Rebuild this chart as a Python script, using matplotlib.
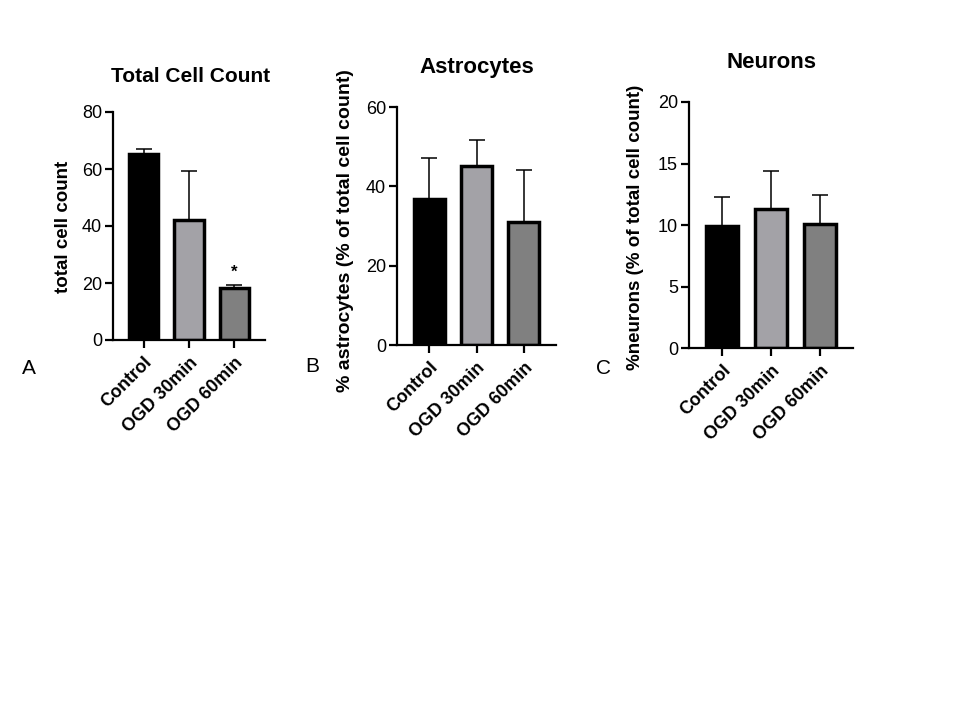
import matplotlib
matplotlib.use("Agg")
import matplotlib.pyplot as plt
import numpy as np

plt.rcParams['font.family'] = ['Liberation Sans', 'DejaVu Sans']

categories = ["Control", "OGD 30min", "OGD 60min"]
bar_colors = ["#000000", "#a3a2a7", "#808080"]

total_mean = [65.2, 42.2, 18.3]
total_err = [1.9, 17.0, 1.0]

astro_mean = [36.9, 45.1, 31.1]
astro_err = [10.2, 6.5, 13.0]

neuron_mean = [9.9, 11.3, 10.1]
neuron_err = [2.4, 3.1, 2.3]

titles = ["Total Cell Count", "Astrocytes", "Neurons"]
ylabels = ["total cell count", "% astrocytes (% of total cell count)",
           "%neurons (% of total cell count)"]
ylims = [(0, 80), (0, 60), (0, 20)]
yticks = [[0, 20, 40, 60, 80], [0, 20, 40, 60], [0, 5, 10, 15, 20]]
letters = ["A", "B", "C"]

W, H = 960, 720
fig = plt.figure(figsize=(9.6, 7.2), dpi=100)

# axes boxes in pixels: left, right, top, bottom
boxes = [(113, 265, 112, 340), (397, 556, 107, 345), (689, 853, 102, 348)]
title_pos = [(191, 76), (477, 68), (771, 62)]
letter_pos = [(22, 368), (305, 366), (596, 369)]
ylabel_pos = [(64, 227), (345, 231), (636, 227)]
ylabel_size = [13.5, 14, 13.5]
title_size = [15, 16, 16]

data = [(total_mean, total_err), (astro_mean, astro_err), (neuron_mean, neuron_err)]

for i, (l, r, t, b) in enumerate(boxes):
    ax = fig.add_axes([l / W, 1 - b / H, (r - l) / W, (b - t) / H])
    means, errs = data[i]
    x = np.arange(len(categories))
    ax.errorbar(x, means, yerr=[np.zeros(len(means)), errs], fmt='none',
                ecolor='black', elinewidth=1.1, capsize=6, capthick=1.1, zorder=1)
    ax.bar(x, means, width=0.65, color=bar_colors, edgecolor='black',
           linewidth=2.5, zorder=2)
    ax.set_xlim(-0.68, 2.68)
    ax.set_ylim(*ylims[i])
    ax.set_yticks(yticks[i])
    ax.set_xticks(x)
    ax.set_xticklabels(categories, rotation=45, ha='right', rotation_mode='anchor',
                       fontsize=12, fontweight='bold')
    for s in ['top', 'right']:
        ax.spines[s].set_visible(False)
    for s in ['left', 'bottom']:
        ax.spines[s].set_linewidth(1.6)
    ax.tick_params(axis='both', length=6, width=1.6, labelsize=13, pad=2)
    ax.tick_params(axis='x', pad=4)
    fig.text(ylabel_pos[i][0] / W, 1 - ylabel_pos[i][1] / H,
             ylabels[i], rotation=90, ha='center', va='center',
             fontsize=ylabel_size[i], fontweight='bold')
    fig.text(title_pos[i][0] / W, 1 - title_pos[i][1] / H, titles[i],
             ha='center', va='center', fontsize=title_size[i], fontweight='bold')
    fig.text(letter_pos[i][0] / W, 1 - letter_pos[i][1] / H, letters[i],
             ha='left', va='center', fontsize=15)
    if i == 0:
        ax.annotate("*", xy=(2, means[2] + errs[2]), xytext=(0, 4),
                    textcoords='offset points', ha='center', va='bottom',
                    fontsize=12, fontweight='bold')

fig.savefig("out.png", dpi=100)
